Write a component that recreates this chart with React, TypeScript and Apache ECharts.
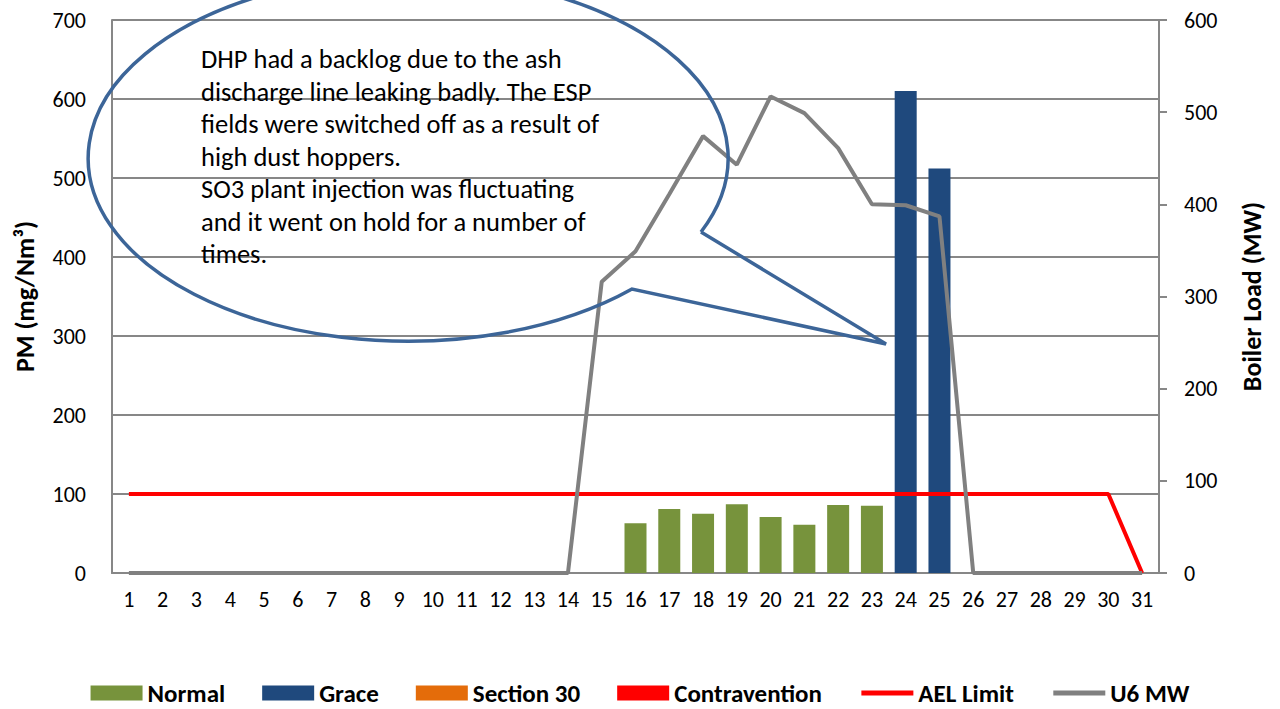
import React, { useEffect, useRef } from "react";
import * as echarts from "echarts";

const days = ["1","2","3","4","5","6","7","8","9","10","11","12","13","14","15","16","17","18","19","20","21","22","23","24","25","26","27","28","29","30","31"];
const normal = [null,null,null,null,null,null,null,null,null,null,null,null,null,null,null,63,81,75,87,71,61,86,85,null,null,null,null,null,null,null,null];
const grace = [null,null,null,null,null,null,null,null,null,null,null,null,null,null,null,null,null,null,null,null,null,null,null,610,512,null,null,null,null,null,null];
const section30: (number | null)[] = [];
const contravention: (number | null)[] = [];
const aelLimit = [100,100,100,100,100,100,100,100,100,100,100,100,100,100,100,100,100,100,100,100,100,100,100,100,100,100,100,100,100,100,0];
const u6mw = [0,0,0,0,0,0,0,0,0,0,0,0,0,0,316,349,411,474,443,517,499,461,400,399,387,0,0,0,0,0,0];
const leftTicks = { min: 0, max: 700, interval: 100 };
const rightTicks = { min: 0, max: 600, interval: 100 };

const calloutText = [
  "DHP had a backlog due to the ash",
  "discharge line leaking badly. The ESP",
  "fields were switched off as a result of",
  "high dust hoppers.",
  "SO3 plant injection was fluctuating",
  "and it went on hold for a number of",
  "times.",
].join("\n");

const FONT = "Carlito, Lato, 'Noto Sans', sans-serif";

let registered = false;
function registerCallout() {
  if (registered) return;
  registered = true;
  const d = "M701 232 A320 183 0 1 0 632 289 L886 344 L701 232";
  echarts.graphic.registerShape("callout", echarts.graphic.extendPath(d, {}) as any);
}

export default function App() {
  const ref = useRef<HTMLDivElement>(null);
  useEffect(() => {
    if (!ref.current) return;
    registerCallout();
    const chart = echarts.init(ref.current, null, { renderer: "svg" });
    const axisGray = "#878787";
    chart.setOption({
      animation: false,
      backgroundColor: "#ffffff",
      textStyle: { fontFamily: FONT },
      grid: { left: 112, right: 121, top: 20, bottom: 136 },
      legend: {
        left: "center",
        top: 680,
        padding: 0,
        itemWidth: 52,
        itemHeight: 15,
        itemGap: 37,
        lineStyle: { width: 5 },
        textStyle: { fontFamily: FONT, fontSize: 25, lineHeight: 26, fontWeight: "bold", color: "#000" },
        data: [
          { name: "Normal", icon: "rect" },
          { name: "Grace", icon: "rect" },
          { name: "Section 30", icon: "rect" },
          { name: "Contravention", icon: "rect" },
          { name: "AEL Limit", itemStyle: { opacity: 0 } },
          { name: "U6 MW", itemStyle: { opacity: 0 } },
        ],
      },
      xAxis: {
        type: "category",
        data: days,
        boundaryGap: true,
        axisLine: { show: true, lineStyle: { color: axisGray, width: 2 } },
        axisTick: { show: false },
        axisLabel: { color: "#000", fontSize: 22, margin: 15, interval: 0, fontFamily: FONT },
      },
      yAxis: [
        {
          type: "value",
          ...leftTicks,
          name: "PM (mg/Nm³)",
          nameLocation: "middle",
          nameGap: 74,
          nameTextStyle: { fontSize: 26, fontWeight: "bold", color: "#000", fontFamily: FONT },
          axisLine: { show: true, lineStyle: { color: axisGray, width: 2 } },
          axisTick: { show: false },
          axisLabel: { color: "#000", fontSize: 22, margin: 26, fontFamily: FONT },
          splitLine: { show: true, lineStyle: { color: axisGray, width: 2 } },
        },
        {
          type: "value",
          ...rightTicks,
          position: "right",
          name: "Boiler Load (MW)",
          nameLocation: "middle",
          nameGap: 80,
          nameTextStyle: { fontSize: 26, fontWeight: "bold", color: "#000", fontFamily: FONT },
          axisLine: { show: true, lineStyle: { color: axisGray, width: 2 } },
          axisTick: { show: true, length: 8, lineStyle: { color: axisGray, width: 2 } },
          axisLabel: { color: "#000", fontSize: 22, margin: 25, fontFamily: FONT },
          splitLine: { show: false },
        },
      ],
      series: [
        { name: "Normal", type: "bar", stack: "pm", data: normal, barWidth: 22, itemStyle: { color: "#77933C" } },
        { name: "Grace", type: "bar", stack: "pm", data: grace, barWidth: 22, itemStyle: { color: "#1F497D" } },
        { name: "Section 30", type: "bar", stack: "pm", data: section30, barWidth: 22, itemStyle: { color: "#E46C0A" } },
        { name: "Contravention", type: "bar", stack: "pm", data: contravention, barWidth: 22, itemStyle: { color: "#FF0000" } },
        {
          name: "AEL Limit", type: "line", data: aelLimit, symbol: "none",
          lineStyle: { color: "#FF0000", width: 4 }, itemStyle: { color: "#FF0000" }, z: 5,
        },
        {
          name: "U6 MW", type: "line", yAxisIndex: 1, data: u6mw, symbol: "none",
          lineStyle: { color: "#808080", width: 4 }, itemStyle: { color: "#808080" }, z: 6,
        },
      ],
      graphic: [
        {
          type: "callout",
          x: 0,
          y: 0,
          z: 100,
          style: { fill: "none", stroke: "#3C6598", lineWidth: 3.5 },
        },
        {
          type: "text",
          left: 201,
          top: 43,
          z: 101,
          style: {
            text: calloutText,
            fill: "#000",
            fontSize: 26.5,
            fontFamily: FONT,
            lineHeight: 32.5,
          },
        },
      ],
    });
    return () => chart.dispose();
  }, []);
  return (
    <div
      ref={ref}
      style={{ position: "fixed", left: 0, top: 0, width: 1280, height: 709, background: "#fff" }}
    />
  );
}
